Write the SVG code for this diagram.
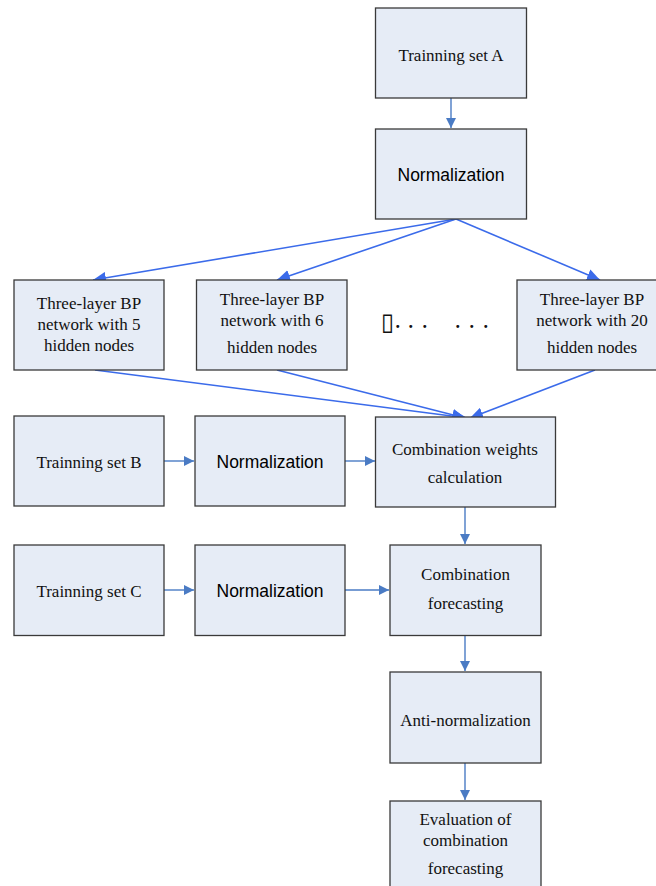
<svg xmlns="http://www.w3.org/2000/svg" width="656" height="886" viewBox="0 0 656 886">
<style>
.box{fill:#E6ECF6;stroke:#3a3a3a;stroke-width:1.3}
.t{font-family:"Liberation Serif","Times New Roman",serif;font-size:17px;fill:#111;text-anchor:middle}
.s{font-family:"Liberation Sans",Arial,sans-serif;font-size:17.5px;fill:#000;text-anchor:middle}
.c1{stroke:#4A7BC4;stroke-width:1.4;fill:none}
.c2{stroke:#3B6BEA;stroke-width:1.6;fill:none}
</style>
<defs>
<marker id="a1" markerWidth="10" markerHeight="10" refX="10" refY="5" orient="auto" markerUnits="userSpaceOnUse"><path d="M0,0 L10,5 L0,10 Z" fill="#4A7BC4"/></marker>
<marker id="a2" markerWidth="14" markerHeight="12" refX="13" refY="6" orient="auto" markerUnits="userSpaceOnUse"><path d="M0,0 L13,6 L0,12 Z" fill="#3B6BEA"/></marker>
</defs>
<rect width="656" height="886" fill="#fff"/>
<g id="connectors">
<line class="c1" x1="451" y1="98" x2="451" y2="128" marker-end="url(#a1)"/>
<line class="c2" x1="456" y1="219" x2="93" y2="280" marker-end="url(#a2)"/>
<line class="c2" x1="456" y1="219" x2="277" y2="280" marker-end="url(#a2)"/>
<line class="c2" x1="456" y1="219" x2="600" y2="280" marker-end="url(#a2)"/>
<line class="c2" x1="95" y1="370" x2="467" y2="418" marker-end="url(#a2)"/>
<line class="c2" x1="277" y1="370" x2="465" y2="418" marker-end="url(#a2)"/>
<line class="c2" x1="595" y1="370" x2="470" y2="418" marker-end="url(#a2)"/>
<line class="c1" x1="164" y1="461" x2="194" y2="461" marker-end="url(#a1)"/>
<line class="c1" x1="345" y1="461" x2="375" y2="461" marker-end="url(#a1)"/>
<line class="c1" x1="465" y1="507" x2="465" y2="544" marker-end="url(#a1)"/>
<line class="c1" x1="164" y1="590" x2="194" y2="590" marker-end="url(#a1)"/>
<line class="c1" x1="345" y1="590" x2="389" y2="590" marker-end="url(#a1)"/>
<line class="c1" x1="465" y1="636" x2="465" y2="671" marker-end="url(#a1)"/>
<line class="c1" x1="465" y1="763" x2="465" y2="800" marker-end="url(#a1)"/>
</g>
<g id="trainA"><rect class="box" x="375.5" y="8" width="151" height="90"/><text class="t" x="451" y="61">Trainning set A</text></g>
<g id="normA"><rect class="box" x="375.5" y="129" width="151" height="90"/><text class="s" x="451" y="181">Normalization</text></g>
<g id="bp5"><rect class="box" x="14" y="280" width="150" height="90"/><text class="t" x="89" y="309">Three-layer BP</text><text class="t" x="89" y="330">network with 5</text><text class="t" x="89" y="351">hidden nodes</text></g>
<g id="bp6"><rect class="box" x="196.5" y="280" width="150.5" height="90"/><text class="t" x="272" y="305">Three-layer BP</text><text class="t" x="272" y="326">network with 6</text><text class="t" x="272" y="353">hidden nodes</text></g>
<g id="dots"><text x="381" y="330" style="font-family:'DejaVu Sans',sans-serif;font-size:24px;fill:#111">▯</text><text x="395.5 408.5 422.5 455.5 469.5 483.5" y="328" style="font-family:'Liberation Serif',serif;font-size:18px;font-weight:bold;fill:#111">......</text></g>
<g id="bp20"><rect class="box" x="517" y="280" width="150" height="90"/><text class="t" x="592" y="305">Three-layer BP</text><text class="t" x="592" y="326">network with 20</text><text class="t" x="592" y="353">hidden nodes</text></g>
<g id="trainB"><rect class="box" x="14" y="416" width="150" height="90"/><text class="t" x="89" y="468">Trainning set B</text></g>
<g id="normB"><rect class="box" x="195" y="416" width="150" height="90"/><text class="s" x="270" y="468">Normalization</text></g>
<g id="weights"><rect class="box" x="375.5" y="417" width="180" height="90"/><text class="t" x="465" y="455">Combination weights</text><text class="t" x="465" y="483">calculation</text></g>
<g id="trainC"><rect class="box" x="14" y="545" width="150" height="90.5"/><text class="t" x="89" y="597">Trainning set C</text></g>
<g id="normC"><rect class="box" x="195" y="545" width="150" height="90.5"/><text class="s" x="270" y="597">Normalization</text></g>
<g id="combo"><rect class="box" x="390" y="545" width="151" height="90.5"/><text class="t" x="465.5" y="580">Combination</text><text class="t" x="465.5" y="609">forecasting</text></g>
<g id="anti"><rect class="box" x="390" y="672" width="151" height="91"/><text class="t" x="465.5" y="726">Anti-normalization</text></g>
<g id="eval"><rect class="box" x="390" y="801" width="151" height="100"/><text class="t" x="465.5" y="825">Evaluation of</text><text class="t" x="465.5" y="846">combination</text><text class="t" x="465.5" y="874">forecasting</text></g>
</svg>
